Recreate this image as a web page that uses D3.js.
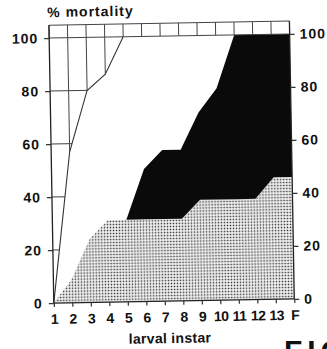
<!DOCTYPE html>
<html>
<head>
<meta charset="utf-8">
<script src="https://cdn.jsdelivr.net/npm/d3@7"></script>
<style>
body { margin: 0; background: #fff; }
svg { display: block; }
text { font-family: "Liberation Sans", Arial, sans-serif; font-weight: bold; fill: #111; }
</style>
</head>
<body>
<div class="container"></div>
<script>
const WIDTH = 327;
const HEIGHT = 349;
const LEFT = 51.5, RIGHT = 292, BOTTOM = 301, TOP = 36, STRIP_TOP = 23;
const TILT = -1; // the scanned figure sits slightly askew

var instars = ['1', '2', '3', '4', '5', '6', '7', '8', '9', '10', '11', '12', '13', 'F'];
var yTicks = [0, 20, 40, 60, 80, 100];
// cumulative % mortality
var earlyLine = [0, 57, 80, 86, 100];   // thin curve, instars 1-5
var blackTop = [0, 9, 24, 31, 31, 50, 57, 57, 71, 80, 100, 100, 100, 100];
var dottedTop = [0, 9, 24, 31, 31, 31, 31, 31, 38, 38, 38, 38, 46, 46];

var translate = function(x, y) {
    return `translate(${x},${y})`;
};

var styleTicks = function(axisG, size) {
    axisG.select('.domain').remove();
    axisG.selectAll('line').attr('stroke', '#333').attr('stroke-width', 1.2);
    axisG.selectAll('text')
        .attr('font-family', '"Liberation Sans", Arial, sans-serif')
        .attr('font-size', size)
        .attr('font-weight', 'bold')
        .attr('fill', '#111');
};

var fillLayout = function() {
    var svg = d3.select('.container').append('svg')
        .attr('width', WIDTH)
        .attr('height', HEIGHT);

    var x = d3.scalePoint().domain(instars).range([LEFT, RIGHT]);
    var y = d3.scaleLinear().domain([0, 100]).range([BOTTOM, TOP]);

    var defs = svg.append('defs');
    var pat = defs.append('pattern')
        .attr('id', 'dots')
        .attr('patternUnits', 'userSpaceOnUse')
        .attr('width', 3).attr('height', 3);
    pat.append('rect').attr('width', 3).attr('height', 3).attr('fill', '#fff');
    pat.append('rect').attr('x', 0.7).attr('y', 0.7)
        .attr('width', 1.6).attr('height', 1.6).attr('fill', '#333');

    var earlyArea = d3.area()
        .x((d, i) => x(instars[i]))
        .y0(y(100))
        .y1((d) => y(d));
    defs.append('clipPath').attr('id', 'early')
        .append('path').attr('d', earlyArea(earlyLine));

    var g = svg.append('g').attr('transform', `rotate(${TILT},172,170)`);

    // dotted area
    var dotArea = d3.area()
        .x((d, i) => x(instars[i]))
        .y0(y(0))
        .y1((d) => y(d));
    g.append('path').attr('d', dotArea(dottedTop)).attr('fill', 'url(#dots)');

    // black band between dotted top and black top
    var band = instars.map((c, i) => ({ c: c, lo: dottedTop[i], hi: blackTop[i] }));
    var blackArea = d3.area()
        .x((d) => x(d.c))
        .y0((d) => y(d.lo))
        .y1((d) => y(d.hi));
    g.append('path').attr('d', blackArea(band)).attr('fill', '#0a0a0a');

    // grid inside the region left of the thin curve
    var grid = g.append('g').attr('clip-path', 'url(#early)')
        .attr('stroke', '#444').attr('stroke-width', 1);
    grid.selectAll('.vg').data(instars.slice(1, 4)).enter()
        .append('line')
        .attr('x1', (d) => x(d)).attr('x2', (d) => x(d))
        .attr('y1', y(0)).attr('y2', y(100));
    grid.selectAll('.hg').data(yTicks.slice(1, 5)).enter()
        .append('line')
        .attr('x1', x('1')).attr('x2', x('5'))
        .attr('y1', (d) => y(d)).attr('y2', (d) => y(d));

    var line = d3.line()
        .x((d, i) => x(instars[i]))
        .y((d) => y(d));
    g.append('path').attr('d', line(earlyLine))
        .attr('fill', 'none').attr('stroke', '#333').attr('stroke-width', 1.1);

    // strip of boxes above 100
    var strip = g.append('g').attr('stroke', '#444').attr('stroke-width', 1);
    strip.selectAll('line.sv').data(instars).enter()
        .append('line')
        .attr('x1', (d) => x(d)).attr('x2', (d) => x(d))
        .attr('y1', STRIP_TOP).attr('y2', y(100));
    strip.append('line')
        .attr('x1', LEFT).attr('x2', RIGHT)
        .attr('y1', STRIP_TOP).attr('y2', STRIP_TOP);
    strip.append('line')
        .attr('x1', LEFT).attr('x2', RIGHT)
        .attr('y1', y(100)).attr('y2', y(100));

    // frame
    var frame = g.append('g').attr('stroke', '#222').attr('stroke-width', 1.3);
    frame.append('line').attr('x1', LEFT).attr('x2', LEFT).attr('y1', BOTTOM).attr('y2', STRIP_TOP);
    frame.append('line').attr('x1', RIGHT).attr('x2', RIGHT).attr('y1', BOTTOM).attr('y2', STRIP_TOP);
    frame.append('line').attr('x1', LEFT).attr('x2', RIGHT).attr('y1', BOTTOM).attr('y2', BOTTOM);

    var yLeft = d3.axisLeft(y).tickValues(yTicks).tickSize(5).tickPadding(6);
    var yRight = d3.axisRight(y).tickValues(yTicks).tickSize(5).tickPadding(5);
    var xAxis = d3.axisBottom(x).tickSize(4).tickPadding(7);

    var gl = g.append('g').attr('transform', translate(LEFT, 0)).call(yLeft);
    styleTicks(gl, 14);
    gl.selectAll('text').attr('letter-spacing', 1);
    var gr = g.append('g').attr('transform', translate(RIGHT, 0)).call(yRight);
    styleTicks(gr, 14);
    gr.selectAll('text').attr('letter-spacing', 1);
    var gx = g.append('g').attr('transform', translate(0, BOTTOM)).call(xAxis);
    styleTicks(gx, 14);
    gx.selectAll('text').attr('letter-spacing', -0.6);

    g.append('text')
        .attr('x', 50).attr('y', 15)
        .attr('font-size', 14)
        .attr('letter-spacing', 1)
        .text('% mortality');

    g.append('text')
        .attr('x', 167).attr('y', 343)
        .attr('text-anchor', 'middle')
        .attr('font-size', 14)
        .attr('letter-spacing', 0.3)
        .text('larval instar');

    // top of the figure caption that the crop cuts off
    svg.append('text')
        .attr('x', 284).attr('y', 361)
        .attr('font-size', 30)
        .attr('letter-spacing', 5)
        .text('FIG.');
};
window.onload = fillLayout;
</script>
</body>
</html>
